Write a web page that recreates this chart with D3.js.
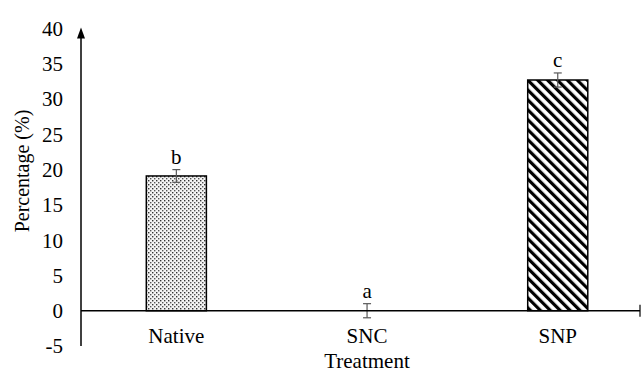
<!DOCTYPE html>
<html>
<head>
<meta charset="utf-8">
<script src="https://d3js.org/d3.v7.min.js"></script>
<style>
    body { margin: 0; background: white; }
    text { font-family: "Liberation Serif", "Times New Roman", serif; fill: #000; }
</style>
</head>
<body>
<svg id="chart" width="641" height="372"></svg>
<script>
    // data
    const categories = ["Native", "SNC", "SNP"];
    const values = [19.1, 0, 32.7];
    const errors = [0.9, 1.0, 1.0];
    const letters = ["b", "a", "c"];
    const yTicks = [-5, 0, 5, 10, 15, 20, 25, 30, 35, 40];

    const svg = d3.select("svg#chart");
    const x0 = 81, xEnd = 640;

    const x = d3.scaleBand()
        .domain(categories)
        .range([x0, x0 + 3 * 190.7])
        .paddingInner(0.685)
        .paddingOuter(0.3425);

    const y = d3.scaleLinear()
        .domain([-5, 40])
        .range([346, 28.5]);

    // patterns
    const defs = svg.append("defs");
    const dots = defs.append("pattern")
        .attr("id", "dots")
        .attr("patternUnits", "userSpaceOnUse")
        .attr("width", 4).attr("height", 4);
    dots.append("rect").attr("width", 4).attr("height", 4).attr("fill", "#f4f4f4");
    dots.append("rect").attr("x", 0).attr("y", 0).attr("width", 1.4).attr("height", 1.4).attr("fill", "#333");
    dots.append("rect").attr("x", 2).attr("y", 2).attr("width", 1.4).attr("height", 1.4).attr("fill", "#555");

    const hatch = defs.append("pattern")
        .attr("id", "hatch")
        .attr("patternUnits", "userSpaceOnUse")
        .attr("width", 7).attr("height", 7)
        .attr("patternTransform", "rotate(-45)");
    hatch.append("rect").attr("width", 7).attr("height", 7).attr("fill", "#fff");
    hatch.append("rect").attr("x", 0).attr("y", 0).attr("width", 3.2).attr("height", 7).attr("fill", "#000");

    const fills = ["url(#dots)", "none", "url(#hatch)"];

    // bars
    svg.selectAll("rect.bar").data(categories)
        .join("rect")
        .attr("class", "bar")
        .attr("x", d => x(d))
        .attr("width", x.bandwidth())
        .attr("y", (d, i) => y(Math.max(values[i], 0)))
        .attr("height", (d, i) => Math.abs(y(values[i]) - y(0)))
        .attr("fill", (d, i) => fills[i])
        .attr("stroke", (d, i) => values[i] === 0 ? "none" : "#000")
        .attr("stroke-width", 1.5);

    // error bars
    const eb = svg.append("g").attr("stroke", "#595959").attr("stroke-width", 1.2);
    categories.forEach((c, i) => {
        const cx = x(c) + x.bandwidth() / 2;
        const top = y(values[i] + errors[i]);
        const bot = y(values[i] - errors[i]);
        eb.append("line").attr("x1", cx).attr("x2", cx).attr("y1", top).attr("y2", bot);
        eb.append("line").attr("x1", cx - 4).attr("x2", cx + 4).attr("y1", top).attr("y2", top);
        eb.append("line").attr("x1", cx - 4).attr("x2", cx + 4).attr("y1", bot).attr("y2", bot);
    });

    // significance letters
    svg.selectAll("text.letter").data(categories)
        .join("text")
        .attr("class", "letter")
        .attr("x", d => x(d) + x.bandwidth() / 2)
        .attr("y", (d, i) => y(values[i] + errors[i]) - 6)
        .attr("text-anchor", "middle")
        .style("font-size", "21px")
        .text((d, i) => letters[i]);

    // x axis
    svg.append("line")
        .attr("x1", x0).attr("x2", xEnd)
        .attr("y1", y(0)).attr("y2", y(0))
        .attr("stroke", "#000").attr("stroke-width", 1.5);
    svg.append("line")
        .attr("x1", xEnd).attr("x2", xEnd)
        .attr("y1", y(0) - 6).attr("y2", y(0) + 6)
        .attr("stroke", "#000").attr("stroke-width", 1.2);

    svg.selectAll("text.xlab").data(categories)
        .join("text")
        .attr("class", "xlab")
        .attr("x", d => x(d) + x.bandwidth() / 2)
        .attr("y", 343)
        .attr("text-anchor", "middle")
        .style("font-size", "21px")
        .text(d => d);

    // y axis with arrow
    svg.append("line")
        .attr("x1", x0).attr("x2", x0)
        .attr("y1", y(-5)).attr("y2", 36)
        .attr("stroke", "#000").attr("stroke-width", 1.5);
    svg.append("path")
        .attr("d", `M${x0},${y(40) - 1} L${x0 - 4},${y(40) + 10} L${x0 + 4},${y(40) + 10} Z`)
        .attr("fill", "#000");

    svg.selectAll("text.ytick").data(yTicks)
        .join("text")
        .attr("class", "ytick")
        .attr("x", 63)
        .attr("y", d => y(d))
        .attr("dy", "0.35em")
        .attr("text-anchor", "end")
        .style("font-size", "21px")
        .text(d => d);

    // axis titles
    svg.append("text")
        .attr("transform", "translate(29,171) rotate(-90)")
        .attr("text-anchor", "middle")
        .style("font-size", "20px")
        .text("Percentage (%)");

    svg.append("text")
        .attr("x", 367)
        .attr("y", 368)
        .attr("text-anchor", "middle")
        .style("font-size", "21px")
        .text("Treatment");
</script>
</body>
</html>
